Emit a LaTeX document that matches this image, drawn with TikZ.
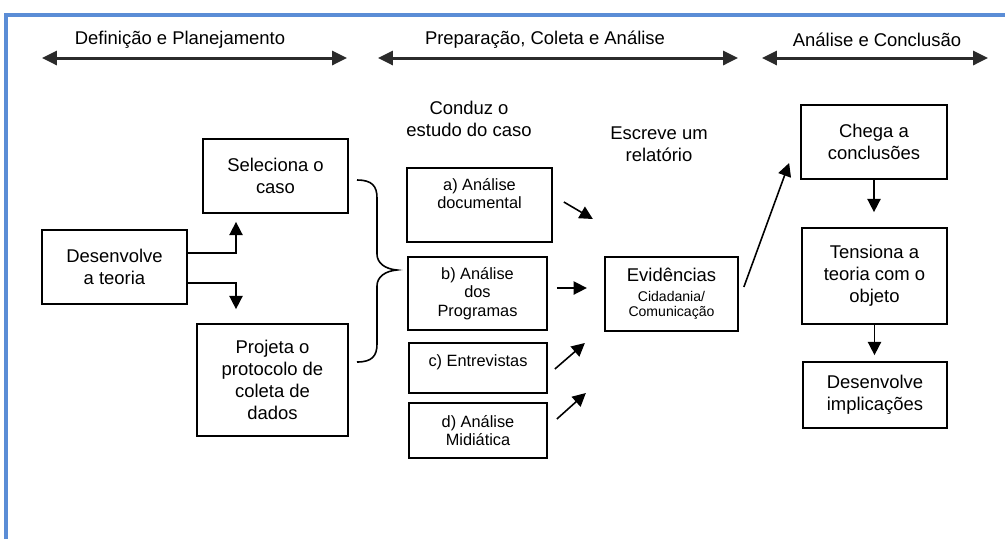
\documentclass[tikz,border=0pt]{standalone}
\usepackage{fontspec}
\setmainfont{Liberation Sans}
\usetikzlibrary{arrows.meta,positioning,calc}
\definecolor{frameBlue}{HTML}{5B8DD6}
\definecolor{spanGray}{HTML}{2B2B2B}
\newcommand{\evSub}{\fontsize{8}{9}\selectfont}
\tikzset{
    stageBox/.style={rectangle, draw=black, line width=1pt, align=center, inner sep=2pt, font=\fontsize{10.5}{12.5}\selectfont},
    methodBox/.style={stageBox, font=\fontsize{9.3}{10.5}\selectfont},
    stageLabel/.style={align=center, font=\fontsize{10.5}{12.5}\selectfont},
    flow/.style={-{Triangle[length=7.5pt,width=7.5pt]}, line width=0.9pt},
    span/.style={{Triangle[length=8.5pt,width=8pt]}-{Triangle[length=8.5pt,width=8pt]}, line width=1.7pt, draw=spanGray},
    frameLine/.style={draw=frameBlue, line width=2pt}
}

\begin{document}
\begin{tikzpicture}[x=0.02cm, y=-0.02cm]
\useasboundingbox (0,0) rectangle (1005,539);

% ----------------------------
% Frame
% ----------------------------
\draw[frameLine] (6,539) -- (6,15) -- (1005,15);

% ----------------------------
% Phase headers
% ----------------------------
\node[stageLabel] (hdDef) at (180,40) {Definição e Planejamento};
\node[stageLabel] (hdPrep) at (545,40) {Preparação, Coleta e Análise};
\node[stageLabel] (hdConc) at (877,40) {Análise e Conclusão};

\coordinate (defL) at (42,58);   \coordinate (defR) at (347,58);
\coordinate (prepL) at (378,58); \coordinate (prepR) at (738,58);
\coordinate (concL) at (762,58); \coordinate (concR) at (988,58);
\foreach \p in {def,prep,conc} {
  \draw[span] (\p L) -- (\p R);
}

% ----------------------------
% Definition
% ----------------------------
\node[stageBox, minimum width=2.9cm, minimum height=1.48cm] (des) at (114.5,267) {Desenvolve\\a teoria};
\node[stageBox, minimum width=2.9cm, minimum height=1.48cm] (sel) at (275.5,176) {Seleciona o\\caso};
\node[stageBox, minimum width=3.02cm, minimum height=2.24cm] (proj) at (272.5,380) {Projeta o\\protocolo de\\coleta de\\dados};

\draw[flow] ([yshift=0.28cm]des.east) -| ([xshift=-0.79cm,yshift=-0.16cm]sel.south);
\draw[flow] ([yshift=-0.32cm]des.east) -| ([xshift=-0.73cm,yshift=0.28cm]proj.north);

% brace
\draw[line width=0.9pt] (357,180) .. controls (372,180) and (377,186) .. (377,198) -- (377,254)
  .. controls (377,263) and (385,269) .. (397,270) .. controls (385,271) and (377,277) .. (377,286)
  -- (377,344) .. controls (377,356) and (372,362) .. (357,362);

% ----------------------------
% Preparation and collection
% ----------------------------
\node[stageLabel] (conduz) at (469,119) {Conduz o\\estudo do caso};
\node[stageLabel] (escreve) at (659,144.5) {Escreve um\\relatório};

\node[methodBox, minimum width=2.9cm, minimum height=1.48cm, text depth=13pt] (anaDoc) at (479.5,205) {a) Análise\\documental};
\node[methodBox, minimum width=2.78cm, minimum height=1.46cm] (anaProg) at (477.5,293.5) {b) Análise\\dos\\Programas};
\node[methodBox, minimum width=2.76cm, minimum height=1cm, text depth=9pt] (entrev) at (478,368) {c) Entrevistas};
\node[methodBox, minimum width=2.76cm, minimum height=1.1cm] (anaMid) at (478,430.5) {d) Análise\\Midiática};

\node[stageBox, minimum width=2.66cm, minimum height=1.48cm] (evid) at (671.5,294) {Evidências\\[-1pt]{\evSub Cidadania/}\\[-4pt]{\evSub Comunicação}};

\foreach \src/\sx/\sy/\dx/\dy in {anaDoc/0.22/0.06/29/17, anaProg/0.18/0.11/30/0, entrev/0.14/-0.02/30/-26, anaMid/0.18/0.23/29/-26} {
  \draw[flow] ([xshift=\sx cm,yshift=\sy cm]\src.east) -- ++(\dx,\dy);
}

% ----------------------------
% Conclusion
% ----------------------------
\node[stageBox, minimum width=2.92cm, minimum height=1.48cm] (chega) at (874,142) {Chega a\\conclusões};
\node[stageBox, minimum width=2.9cm, minimum height=1.92cm] (tens) at (874.5,276) {Tensiona a\\teoria com o\\objeto};
\node[stageBox, minimum width=2.88cm, minimum height=1.32cm] (impl) at (875,395) {Desenvolve\\implicações};

\draw[flow] ([xshift=0.1cm,yshift=0.14cm]evid.east) -- ([xshift=-0.22cm,yshift=-0.42cm]chega.west);
\draw[flow, shorten >=0.3cm] (chega.south) -- (chega.south |- tens.north);
\draw[flow, shorten >=0.12cm] (tens.south) -- (tens.south |- impl.north);

\end{tikzpicture}
\end{document}
